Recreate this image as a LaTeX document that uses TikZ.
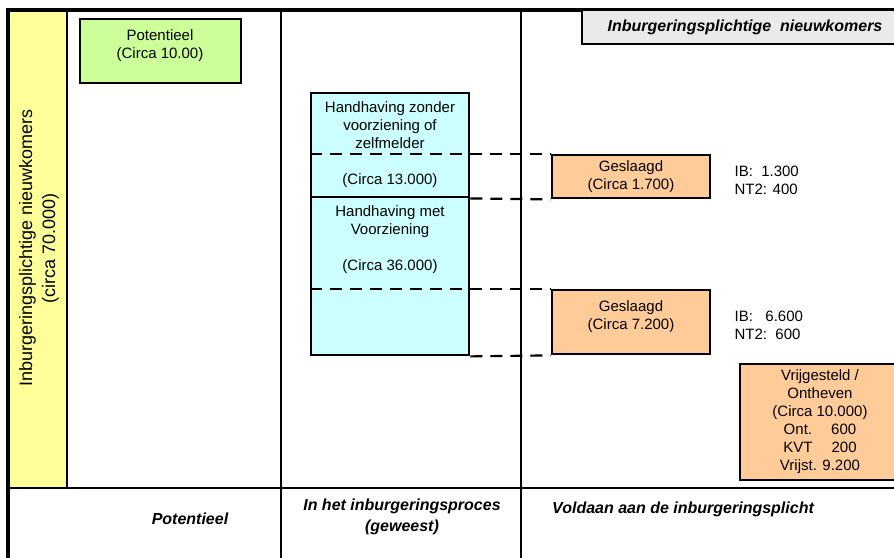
\documentclass[tikz,border=0pt]{standalone}
\usepackage{fontspec}
\setmainfont{Liberation Sans}
\usepackage{tikz}
\usetikzlibrary{positioning}
\definecolor{geel}{HTML}{FFFF99}
\definecolor{groen}{HTML}{CCFF99}
\definecolor{lichtblauw}{HTML}{CCFFFF}
\definecolor{oranje}{HTML}{FFCC99}
\definecolor{grijs}{HTML}{EAEAEA}

\begin{document}
\begin{tikzpicture}[x=1pt, y=-1pt,
  every node/.style = {font=\fontsize{15}{18}\selectfont, align=center, inner sep=0pt},
  box/.style = {draw, line width=2.8pt, minimum width=158pt},
  kop/.style = {font=\fontsize{16}{21}\selectfont\bfseries\itshape},
  stippel/.style = {line width=2.2pt, dash pattern=on 12pt off 8pt}]
  \useasboundingbox (0,0) rectangle (894,557);
  % raster
  \filldraw[fill=geel, line width=2.8pt] (8,10) rectangle (67,488);
  \draw[line width=1.3pt] (281,10) -- (281,560) (521,10) -- (521,560);
  \draw[line width=2.8pt] (8,488) -- (900,488);
  \draw[line width=3.2pt] (8,560) -- (8,10) -- (900,10);
  \node[rotate=90, font=\fontsize{18}{23}\selectfont] (totaal) at (39,248)
    {Inburgeringsplichtige nieuwkomers\\(circa 70.000)};
  \node[box, fill=grijs, minimum width=318pt, minimum height=34pt] (kop) at (741,27) {};
  \node[kop] at (745,27) {Inburgeringsplichtige\ \ nieuwkomers};
  % potentieel
  \node[box, fill=groen, minimum width=161pt, minimum height=64pt] (potentieel) at (160.5,51) {};
  \node at (160,46) {Potentieel\\(Circa 10.00)};
  % proces
  \node[box, fill=lichtblauw, minimum height=104pt] (zonder) at (390,145)
    {Handhaving zonder\\voorziening of\\zelfmelder\\[18pt](Circa 13.000)};
  \node[box, fill=lichtblauw, minimum height=158pt] (met) at (390,276) {};
  \node at (390,240) {Handhaving met\\Voorziening\\[18pt](Circa 36.000)};
  % voldaan
  \node[box, fill=oranje, minimum height=43pt] (geslaagdA) at (631,176.5)
    {Geslaagd\\(Circa 1.700)};
  \node[box, fill=oranje, minimum height=64pt] (geslaagdB) at (631,322) {};
  \node at (631,317) {Geslaagd\\(Circa 7.200)};
  \node[right=23pt of geslaagdA, yshift=-4pt, align=left] (ibA) {IB:\ \ 1.300\\NT2: 400};
  \node[right=23pt of geslaagdB, yshift=-3pt, align=left] (ibB) {IB:\ \ \ 6.600\\NT2:\ \ 600};
  \node[box, fill=oranje, minimum width=160pt, minimum height=116pt] (vrij) at (820,422)
    {Vrijgesteld /\\Ontheven\\(Circa 10.000)\\Ont.\quad\ 600\\KVT\quad\ 200\\Vrijst. 9.200};
  \draw[stippel] (zonder.west |- geslaagdA.north) -- (geslaagdA.north west);
  \draw[stippel] (zonder.south east) -- (geslaagdA.south west);
  \draw[stippel] (met.west |- geslaagdB.north) -- (geslaagdB.north west);
  \draw[stippel] (met.south east) -- (geslaagdB.south west);
  % kolomkoppen
  \node[kop] at (190,519) {Potentieel};
  \node[kop] at (402,517) {In het inburgeringsproces\\(geweest)};
  \node[kop, anchor=west] at (552,509) {Voldaan aan de inburgeringsplicht};
\end{tikzpicture}
\end{document}
